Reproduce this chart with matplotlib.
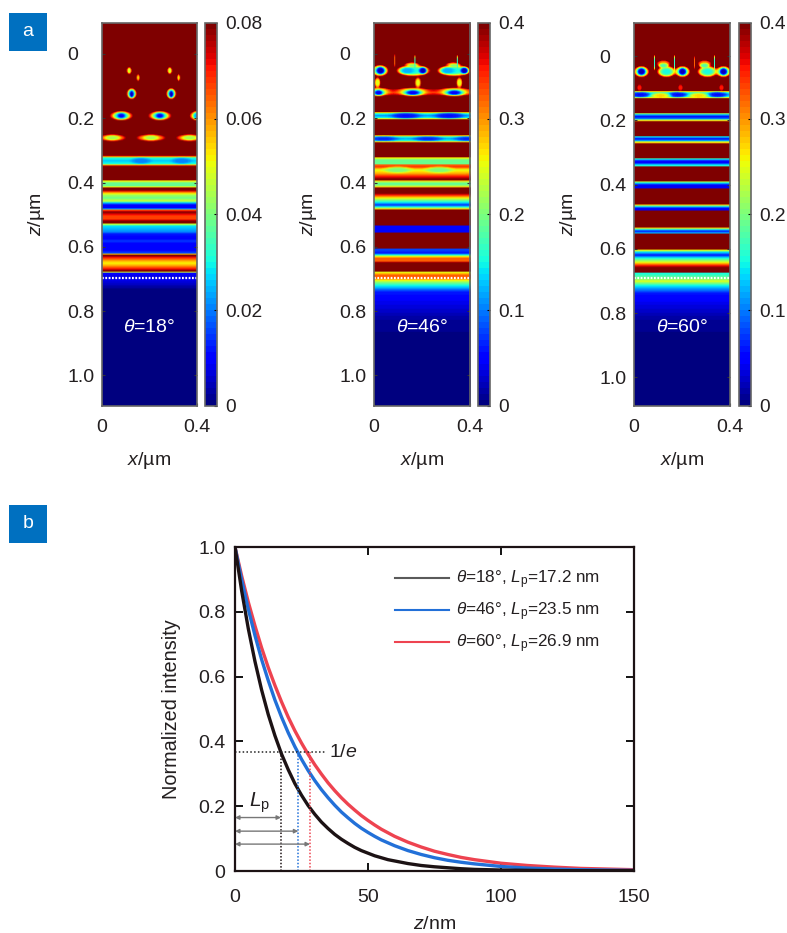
import numpy as np
import matplotlib
matplotlib.use('Agg')
import matplotlib.pyplot as plt
from matplotlib.lines import Line2D
from matplotlib.patches import Rectangle

plt.rcParams['font.family'] = ['Liberation Sans', 'DejaVu Sans']
plt.rcParams['mathtext.fontset'] = 'custom'
plt.rcParams['mathtext.rm'] = 'Liberation Sans'
plt.rcParams['mathtext.it'] = 'Liberation Sans:italic'
plt.rcParams['mathtext.bf'] = 'Liberation Sans:bold'

W, H = 787, 933

# field maps: 96 x 383 cells, values as a fraction of the colour limit
n_cols, n_rows = 96, 383

rows18 = [0, 132, 134, 135, 138, 141, 142, 144, 157, 158, 160, 163, 164, 165, 167, 169, 172, 175, 178, 180,
          182, 185, 186, 187, 189, 193, 196, 198, 200, 201, 203, 206, 209, 211, 215, 218, 221, 227, 230, 231,
          232, 234, 237, 240, 243, 246, 248, 249, 250, 253, 257, 261, 267, 382]
vals18 = [1.2, 1.2, .7, .4, .32, .4, .7, 1.2, 1.2, .65, .48, .48, .65, 1.0, 1.05, .8, .55, .48, .6, .3,
          .12, .12, .3, .8, 1.0, .84, .84, 1.0, 1.0, .6, .35, .3, .25, .15, .12, .18, .12, .12, .2, .7,
          1.05, .9, .75, .65, .75, .9, 1.05, .6, .12, .1, .1, .07, 0, 0]
# col, row, col radius, row radius, value
spots18 = [(27, 48, 2, 3, .6), (68, 48, 2, 3, .6), (36, 55, 1.2, 3, .65), (77, 55, 1.2, 3, .65),
           (29.5, 71, 4, 4.5, .55), (29.5, 71, 3, 3.5, .3), (29.5, 71.5, 1.5, 2.5, .05),
           (69.5, 71, 4, 4.5, .55), (69.5, 71, 3, 3.5, .3), (69.5, 71.5, 1.5, 2.5, .05),
           (19, 93, 10, 4, .65), (19, 93, 6, 3, .3), (19, 93, 3, 1.8, .12),
           (58, 93, 10, 4, .65), (58, 93, 6, 3, .3), (58, 93, 3, 1.8, .12),
           (95, 93, 6, 4, .65), (95, 93, 3, 3, .3),
           (10, 115, 12, 3, .7), (10, 115, 6, 2, .55), (49, 115, 13, 3, .7), (49, 115, 6, 2, .55),
           (88, 115, 12, 3, .7), (88, 115, 6, 2, .55),
           (39, 138, 8, 2.5, .25), (80, 138, 8, 2.5, .25)]

rows46 = [0, 65, 67, 70, 72, 74, 89, 90, 91, 93, 95, 96, 97, 112, 113, 114, 116, 118, 119, 120, 134, 135, 137, 141,
          142, 144, 147, 151, 154, 157, 158, 159, 161, 163, 164, 165, 170, 172, 175, 177, 179, 182, 184, 186, 187,
          202, 203, 209, 210, 225, 226, 230, 232, 233, 235, 238, 239, 240, 248, 249, 252, 255, 258, 262, 269, 280,
          297, 320, 382]
vals46 = [1.2, 1.2, .95, .85, .95, 1.2, 1.2, .65, .38, .28, .38, .65, 1.2, 1.2, .7, .42, .3, .42, .7, 1.2, 1.2, .65, .48, .48,
          .8, .85, .62, .75, .9, 1.05, .7, .55, .45, .55, .7, 1.05, 1.05, .88, .65, .5, .38, .18, .38, .7, 1.2,
          1.2, .13, .13, 1.2, 1.2, .2, .15, .4, .6, .8, .8, .95, 1.1, 1.1, .62, .8, .8, .58, .38, .15, .1,
          .03, 0, 0]
spots46 = [(5.5, 48, 6.5, 4.5, .35), (6, 48, 3.2, 2.8, .05),
           (38.5, 48, 13, 4.5, .38), (32, 48, 6, 2.8, .3), (48, 48, 3.2, 2.8, .05),
           (79, 48, 13, 4.5, .38), (72, 48, 6, 2.8, .3), (89, 48, 3.2, 2.8, .05),
           (37, 42, 6, 2, .7), (38, 43, 4, 1.2, .5), (78, 42, 6, 2, .7), (79, 43, 4, 1.2, .5),
           (20, 38, .4, 6, .8), (40, 40, .4, 6, .4), (82, 40, .4, 6, .4),
           (3, 60, 2.6, 4.5, .62), (43, 60, 2.6, 4.5, .62), (84, 60, 2.6, 4.5, .62),
           (4, 69, 9, 3.5, .62), (4, 70, 5, 2.5, .3), (4, 70, 3, 1.8, .12),
           (38, 69, 12, 3.5, .62), (38, 70, 8, 2.5, .3), (38, 70, 5, 1.8, .12),
           (79, 69, 12, 3.5, .62), (79, 70, 8, 2.5, .3), (79, 70, 5, 1.8, .12),
           (31, 93, 12, 2.5, .14), (74, 93, 12, 2.5, .14),
           (9, 116, 12, 2, .17), (53, 116, 12, 2, .17), (93, 116, 12, 2, .17),
           (23, 147, 11, 2.5, .5), (64, 147, 11, 2.5, .5)]

rows60 = [0, 68, 69, 70, 72, 74, 75, 76, 90, 91, 92, 94, 96, 97, 98, 99, 113, 114, 116, 118, 119, 120, 121,
          135, 136, 138, 140, 142, 143, 144, 158, 159, 160, 162, 164, 165, 166, 181, 182, 183, 185, 187, 188,
          204, 205, 206, 208, 210, 211, 226, 227, 229, 232, 235, 239, 242, 245, 249, 250, 255, 258, 262, 270, 280,
          297, 320, 382]
vals60 = [1.2, 1.2, .65, .4, .3, .4, .65, 1.2, 1.2, .5, .3, .13, .25, .5, .7, 1.2, 1.2, .35, .12, .3, .6, .7, 1.2,
          1.2, .4, .15, .13, .35, .4, 1.2, 1.2, .55, .35, .13, .1, .12, 1.2, 1.2, .7, .45, .15, .12, 1.2,
          1.2, .7, .45, .15, .3, 1.2, 1.2, .65, .35, .15, .38, .62, .85, 1.05, 1.1, .38, .48, .62, .38, .15, .1,
          .03, 0, 0]
spots60 = [(7, 49, 6, 4.5, .38), (7, 49, 3.2, 2.8, .05),
           (32, 49, 7.5, 4.5, .38), (48, 49, 6, 4.5, .38), (48, 49, 3, 2.8, .05),
           (73, 49, 8, 4.5, .38), (89, 49, 6, 4.5, .38), (89, 49, 3, 2.8, .05),
           (29, 41, 6, 3, .75), (29, 43, 4, 2, .45), (70, 41, 6, 3, .75), (70, 43, 4, 2, .45),
           (20, 40, .4, 6, .4), (40, 40, .4, 6, .4), (60, 40, .4, 6, .8), (80, 40, .4, 6, .4),
           (5, 65, 2.5, 3.5, .88), (46, 65, 2.5, 3.5, .88), (87, 65, 2.5, 3.5, .88),
           (6, 72, 8, 2.3, .14), (43, 72, 8, 2.3, .14), (83, 72, 8, 2.3, .14),
           (26, 73, 8, 2.3, .68), (64, 73, 8, 2.3, .68)]

labels_a = ['18', '46', '60']
clims = [0.08, 0.4, 0.4]
cbar_ticks = [[0, 0.02, 0.04, 0.06, 0.08], [0, 0.1, 0.2, 0.3, 0.4], [0, 0.1, 0.2, 0.3, 0.4]]
cbar_labels = [['0', '0.02', '0.04', '0.06', '0.08'], ['0', '0.1', '0.2', '0.3', '0.4'], ['0', '0.1', '0.2', '0.3', '0.4']]
z_ticks = [0, 0.2, 0.4, 0.6, 0.8, 1.0]
z_labels = ['0', '0.2', '0.4', '0.6', '0.8', '1.0']
z_limits = [(1.095, -0.096), (1.095, -0.096), (1.089, -0.103)]
z_interface = [0.697, 0.697, 0.69]

# panel b curves
z_nm = [0, 2.5, 5, 7.5, 10, 12.5, 15, 17.5, 20, 22.5, 25, 27.5, 30, 32.5, 35, 37.5, 40, 42.5, 45, 47.5, 50, 52.5, 55, 57.5,
        60, 65, 70, 75, 80, 85, 90, 100, 110, 120, 130, 140, 150]
i18 = [1, .865, .748, .647, .559, .483, .418, .361, .313, .270, .234, .202, .175, .151, .131, .113, .098, .085, .073, .063, .055, .047, .041, .035,
       .031, .023, .017, .013, .010, .007, .005, .003, .002, .001, .001, .001, .001]
i46 = [1, .899, .808, .727, .653, .588, .528, .475, .427, .384, .345, .310, .279, .251, .226, .203, .182, .164, .147, .132, .119, .107, .096, .087,
       .078, .063, .051, .041, .033, .027, .022, .014, .009, .006, .004, .003, .002]
i60 = [1, .911, .830, .757, .689, .628, .573, .522, .475, .433, .395, .360, .328, .299, .272, .248, .226, .206, .188, .171, .156, .142, .129, .118,
       .107, .089, .074, .061, .051, .042, .035, .024, .017, .012, .008, .006, .004]
lp_read = [17.3, 23.8, 28.2]
arrow_y = [0.165, 0.123, 0.083]
line_colors = ['#1c1214', '#2270d8', '#ee4350']
legend_colors = ['#5a5a5a', '#2270d8', '#ee4350']
legend_labels = [r'$\theta$=18°, $L_{\mathrm{p}}$=17.2 nm', r'$\theta$=46°, $L_{\mathrm{p}}$=23.5 nm', r'$\theta$=60°, $L_{\mathrm{p}}$=26.9 nm']


def px_axes(fig, x0, y0, x1, y1):
    return fig.add_axes([x0 / W, 1 - y1 / H, (x1 - x0) / W, (y1 - y0) / H])


def build_field(rows, vals, spots):
    prof = np.interp(np.arange(n_rows), rows, vals)
    field = np.tile(prof[:, None], (1, n_cols))
    cc, rr = np.meshgrid(np.arange(n_cols), np.arange(n_rows))
    for c, r, rc, rw, v in spots:
        g = np.exp(-(((cc - c) / (rc * 1.2)) ** 2 + ((rr - r) / (rw * 1.2)) ** 2) ** 2)
        field = field * (1 - g) + v * g
    return field


fig = plt.figure(figsize=(W / 100, H / 100), dpi=100)

# panel a
jet = plt.get_cmap('jet', 64)
fields = [build_field(rows18, vals18, spots18), build_field(rows46, vals46, spots46), build_field(rows60, vals60, spots60)]
ax_x = [(102, 197), (374, 470), (634, 730)]
cb_x = [(205, 217), (478, 490), (739, 751)]
for i in range(3):
    ax = px_axes(fig, ax_x[i][0], 23, ax_x[i][1], 406)
    lo, hi = z_limits[i]
    im = ax.imshow(fields[i] * clims[i], cmap=jet, vmin=0, vmax=clims[i], aspect='auto',
                   extent=[0, 0.4, lo, hi], interpolation='bilinear')
    ax.plot([0, 0.4], [z_interface[i]] * 2, color='white', lw=1.6, ls=(0, (0.8, 0.7)))
    ax.set_xlim(0, 0.4)
    ax.set_ylim(lo, hi)
    ax.set_xticks([0, 0.4])
    ax.set_xticklabels(['0', '0.4'])
    ax.set_yticks(z_ticks)
    ax.set_yticklabels(z_labels)
    ax.tick_params(axis='both', direction='in', length=2, width=0.8, color='#333333', labelsize=14, labelcolor='#231f20')
    ax.tick_params(axis='x', pad=9.5)
    ax.tick_params(axis='y', pad=25, right=True)
    for t in ax.get_yticklabels():
        t.set_horizontalalignment('left')
    for s in ax.spines.values():
        s.set_color('#666666')
        s.set_linewidth(1.2)
    ax.set_xlabel(r'$x$/µm', fontsize=14, labelpad=10, color='#231f20')
    ax.set_ylabel(r'$z$/µm', fontsize=14, color='#231f20')
    ax.yaxis.set_label_coords(-55 / (ax_x[i][1] - ax_x[i][0]), 0.5)
    ax.text(0.5, 0.205, r'$\theta$=' + labels_a[i] + '°', transform=ax.transAxes, color='white',
            fontsize=14, ha='center', va='center')

    cax = px_axes(fig, cb_x[i][0], 23, cb_x[i][1], 406)
    cb = fig.colorbar(im, cax=cax)
    cb.set_ticks(cbar_ticks[i])
    cb.set_ticklabels(cbar_labels[i])
    cb.ax.tick_params(direction='in', length=2, width=0.8, labelsize=13.8, pad=6, labelcolor='#231f20')
    cb.outline.set_edgecolor('#666666')
    cb.outline.set_linewidth(1.2)

# panel b
ax = px_axes(fig, 235, 547, 634, 871)
ax.plot(z_nm, i60, color=line_colors[2], lw=2.4)
ax.plot(z_nm, i46, color=line_colors[1], lw=2.4)
ax.plot(z_nm, i18, color=line_colors[0], lw=2.4)
ax.set_xlim(0, 150)
ax.set_ylim(0, 1)
ax.set_xticks([0, 50, 100, 150])
ax.set_yticks([0, 0.2, 0.4, 0.6, 0.8, 1.0])
ax.set_yticklabels(['0', '0.2', '0.4', '0.6', '0.8', '1.0'])
ax.tick_params(direction='in', length=6, width=1.3, top=True, right=True, labelsize=14, labelcolor='#231f20')
ax.tick_params(axis='x', pad=13)
ax.tick_params(axis='y', pad=7)
for s in ax.spines.values():
    s.set_linewidth(1.6)
    s.set_color('#1c1214')
ax.set_xlabel(r'$z$/nm', fontsize=14, labelpad=7.5, color='#231f20')
ax.set_ylabel('Normalized intensity', fontsize=14.3, labelpad=12, color='#231f20')

ax.plot([0, 34], [0.368, 0.368], color='#222222', lw=1.1, ls=(0, (1, 1.5)))
ax.text(35.5, 0.366, r'1/$e$', fontsize=14, va='center', color='#231f20')
for k in range(3):
    ax.plot([lp_read[k]] * 2, [0, 0.368], color=line_colors[k], lw=1.1, ls=(0, (1, 1.2)))
    ax.annotate('', xy=(lp_read[k], arrow_y[k]), xytext=(0, arrow_y[k]),
                arrowprops=dict(arrowstyle='<|-|>', color='#777777', lw=1.0, mutation_scale=6, shrinkA=0, shrinkB=0))
ax.text(5.3, 0.21, r'$L_{\mathrm{p}}$', fontsize=15, va='center', color='#231f20')

handles = [Line2D([], [], color=c, lw=1.5) for c in legend_colors]
ax.legend(handles, legend_labels, frameon=False, loc='upper left', bbox_to_anchor=(0.4, 0.933), fontsize=12.3,
          handlelength=3.2, handletextpad=0.42, labelspacing=0.55, borderpad=0, borderaxespad=0, labelcolor='#231f20')

# panel tags
for y0, tag in [(13, 'a'), (505, 'b')]:
    fig.add_artist(Rectangle((9 / W, 1 - (y0 + 38) / H), 38 / W, 38 / H, transform=fig.transFigure,
                             facecolor='#0070c0', edgecolor='none'))
    fig.text(28 / W, 1 - (y0 + 18) / H, tag, color='white', fontsize=14, ha='center', va='center')

fig.savefig('out.png', dpi=100)
